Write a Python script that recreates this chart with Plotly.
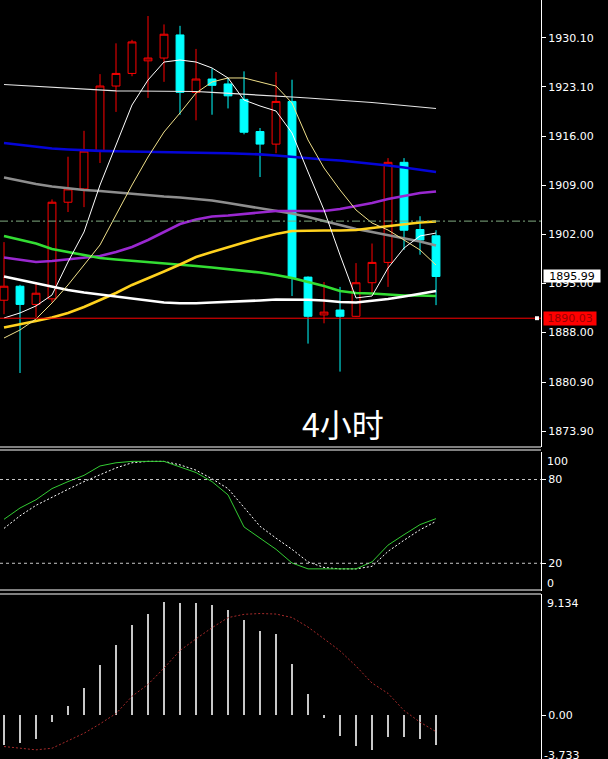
import plotly.graph_objects as go

W, H = 608, 759
PLOT_RIGHT = 541

# ---------------- data ----------------
bars = list(range(28))
open_ = [1892.6, 1894.6, 1892.0, 1892.8, 1906.6, 1908.5, 1913.9, 1923.2, 1925.0, 1926.8,
         1927.2, 1930.5, 1922.3, 1924.2, 1923.5, 1921.3, 1916.7, 1914.9, 1921.0, 1895.9,
         1890.5, 1891.2, 1890.3, 1895.1, 1898.0, 1912.3, 1902.7, 1901.8]
high = [1900.9, 1894.8, 1895.2, 1907.0, 1913.1, 1916.8, 1924.9, 1929.3, 1929.8, 1933.2,
        1932.0, 1931.8, 1928.5, 1925.7, 1924.3, 1925.3, 1917.2, 1925.2, 1924.1, 1896.0,
        1895.2, 1894.5, 1897.9, 1900.7, 1912.9, 1912.9, 1904.6, 1902.6]
low = [1890.6, 1882.2, 1890.2, 1892.3, 1905.2, 1905.9, 1912.2, 1919.5, 1924.6, 1921.5,
       1923.8, 1919.1, 1918.3, 1919.1, 1920.0, 1916.3, 1910.2, 1913.6, 1893.2, 1886.4,
       1889.3, 1882.4, 1890.2, 1893.6, 1894.5, 1899.8, 1899.1, 1891.9]
close = [1894.6, 1892.0, 1893.6, 1906.6, 1908.5, 1913.9, 1923.2, 1925.0, 1929.5, 1927.2,
         1930.6, 1922.3, 1924.2, 1923.3, 1921.8, 1916.6, 1914.9, 1921.0, 1895.8, 1890.3,
         1890.9, 1890.3, 1895.1, 1898.0, 1912.3, 1902.6, 1901.2, 1895.99]

ma_fast = [1890.06, 1890.78, 1891.78, 1893.35, 1898.06, 1902.35, 1909.06, 1914.78, 1920.49, 1924.06,
           1926.63, 1926.92, 1926.63, 1925.78, 1924.35, 1921.20, 1920.35, 1919.63, 1916.49, 1910.92,
           1905.49, 1899.06, 1892.92, 1893.20, 1897.20, 1900.06, 1901.78, 1902.20]
ma_mid = [1887.20, 1888.35, 1889.92, 1892.20, 1894.78, 1897.63, 1900.49, 1904.78, 1909.06, 1913.06,
          1916.63, 1919.35, 1922.20, 1923.78, 1924.35, 1924.35, 1923.78, 1923.20, 1920.78, 1915.49,
          1911.49, 1908.35, 1905.49, 1903.63, 1902.63, 1901.20, 1899.78, 1897.63]
ma_top = [1923.42, 1923.28, 1923.13, 1923.02, 1922.92, 1922.70, 1922.56, 1922.52, 1922.49, 1922.49,
          1922.49, 1922.49, 1922.42, 1922.28, 1922.13, 1921.99, 1921.85, 1921.73, 1921.63, 1921.49,
          1921.35, 1921.20, 1920.99, 1920.85, 1920.63, 1920.42, 1920.20, 1919.99]
ma_blue = [1915.06, 1914.77, 1914.49, 1914.27, 1914.13, 1914.01, 1913.94, 1913.89, 1913.83, 1913.77,
           1913.73, 1913.70, 1913.67, 1913.63, 1913.59, 1913.53, 1913.44, 1913.27, 1913.06, 1912.87,
           1912.70, 1912.56, 1912.34, 1912.13, 1911.84, 1911.56, 1911.20, 1910.91]
ma_gray = [1910.13, 1909.63, 1909.20, 1908.85, 1908.56, 1908.35, 1908.20, 1907.99, 1907.78, 1907.56,
           1907.42, 1907.28, 1907.06, 1906.85, 1906.49, 1906.13, 1905.78, 1905.42, 1904.99, 1904.49,
           1903.92, 1903.35, 1902.78, 1902.35, 1901.92, 1901.49, 1900.99, 1900.42]
ma_purple = [1898.70, 1898.35, 1898.06, 1898.20, 1898.42, 1898.63, 1898.92, 1899.49, 1900.20, 1901.20,
             1902.35, 1903.49, 1904.13, 1904.56, 1904.70, 1904.92, 1905.06, 1905.35, 1905.35, 1905.35,
             1905.35, 1905.63, 1906.06, 1906.49, 1907.06, 1907.49, 1907.92, 1908.13]
ma_green = [1901.78, 1901.28, 1900.70, 1899.92, 1899.49, 1899.06, 1898.63, 1898.42, 1898.25, 1898.06,
            1897.85, 1897.70, 1897.49, 1897.28, 1897.06, 1896.85, 1896.56, 1896.20, 1895.78, 1895.20,
            1894.63, 1893.92, 1893.63, 1893.56, 1893.42, 1893.28, 1893.28, 1893.20]
ma_gold = [1888.70, 1889.13, 1889.63, 1890.13, 1890.78, 1891.63, 1892.63, 1893.63, 1894.78, 1895.70,
           1896.70, 1897.70, 1898.78, 1899.49, 1900.20, 1900.85, 1901.49, 1902.06, 1902.49, 1902.56,
           1902.56, 1902.56, 1902.63, 1902.92, 1903.20, 1903.49, 1903.70, 1903.85]
ma_white = [1895.99, 1895.49, 1894.99, 1894.49, 1894.06, 1893.70, 1893.42, 1893.13, 1892.85, 1892.56,
            1892.28, 1892.16, 1892.16, 1892.28, 1892.35, 1892.42, 1892.56, 1892.70, 1892.73, 1892.66,
            1892.56, 1892.35, 1892.28, 1892.49, 1892.78, 1893.13, 1893.49, 1893.92]

stoch_main = [51.5, 59.6, 65.5, 73.5, 78.5, 83.0, 89.7, 92.0, 93.0, 93.0,
              93.0, 89.0, 85.0, 78.5, 69.0, 46.0, 38.0, 30.0, 20.2, 16.0,
              16.0, 16.0, 16.0, 21.0, 33.0, 40.5, 47.7, 52.0]
stoch_signal = [45.0, 54.0, 61.5, 67.5, 73.0, 78.5, 83.5, 88.3, 92.0, 93.0,
                93.0, 90.5, 86.7, 80.5, 73.5, 60.0, 46.5, 38.0, 30.0, 21.0,
                17.0, 16.0, 16.0, 17.8, 28.5, 36.5, 44.0, 50.0]

macd_hist = [-2.26, -2.08, -1.81, -0.50, 0.68, 2.04, 3.78, 5.28, 6.80, 7.62,
             8.51, 8.43, 8.43, 8.30, 7.93, 7.17, 6.34, 6.12, 3.85, 1.58,
             -0.20, -1.56, -2.31, -2.65, -1.63, -1.63, -1.81, -2.26]
macd_signal = [-2.38, -2.53, -2.63, -2.51, -1.97, -1.38, -0.67, 0.11, 1.41, 2.31,
               3.54, 4.87, 5.75, 6.59, 7.35, 7.60, 7.66, 7.62, 7.36, 6.64,
               5.75, 4.84, 3.69, 2.41, 1.63, 0.34, -0.54, -1.26]

price_ticks = [1930.10, 1923.10, 1916.00, 1909.00, 1902.00, 1895.00, 1888.00, 1880.90, 1873.90]
last_price = 1895.99
level_price = 1890.03
hline_price = 1903.90
stoch_levels = [80, 20]
stoch_max, stoch_min = 100, 0
macd_max, macd_min = 9.134, -3.733
title_text = "4小时"

# ---------------- layout helpers ----------------
def dom(top_px, bot_px):
    return [(H - bot_px) / H, (H - top_px) / H]

def py(px):
    return (H - px) / H

FONT = "DejaVu Sans"
X_RANGE = [-0.25, 33.56]
MACD_TOP_PX, MACD_ZERO_PX = 594, 715
macd_px_per_unit = (MACD_ZERO_PX - MACD_TOP_PX) / macd_max
macd_bottom_val = -(H - MACD_ZERO_PX) / macd_px_per_unit
macd_min_px = MACD_ZERO_PX - macd_min * macd_px_per_unit

fig = go.Figure()

fig.add_trace(go.Candlestick(
    x=bars, open=open_, high=high, low=low, close=close,
    increasing=dict(line=dict(color="#FF0000", width=1), fillcolor="#000000"),
    decreasing=dict(line=dict(color="#00FFFF", width=1), fillcolor="#00FFFF"),
    xaxis="x", yaxis="y", hoverinfo="skip"))

line_specs = [
    (ma_top, "#E6E6E6", 1.2),
    (ma_blue, "#0505D8", 2.6),
    (ma_gray, "#8E8E8E", 2.6),
    (ma_purple, "#9A28D0", 2.6),
    (ma_green, "#33DD33", 2.6),
    (ma_gold, "#FFD21E", 2.6),
    (ma_white, "#FFFFFF", 2.6),
    (ma_mid, "#F0E08A", 1),
    (ma_fast, "#FFFFFF", 1),
]
for vals, col, w in line_specs:
    fig.add_trace(go.Scatter(x=bars, y=vals, mode="lines",
                             line=dict(color=col, width=w),
                             xaxis="x", yaxis="y", hoverinfo="skip"))

fig.add_trace(go.Scatter(x=bars, y=stoch_signal, mode="lines",
                         line=dict(color="#FFFFFF", width=1, dash="2px,2px"),
                         xaxis="x2", yaxis="y2", hoverinfo="skip"))
fig.add_trace(go.Scatter(x=bars, y=stoch_main, mode="lines",
                         line=dict(color="#33CC33", width=1),
                         xaxis="x2", yaxis="y2", hoverinfo="skip"))

fig.add_trace(go.Bar(x=bars, y=macd_hist, width=0.14, marker=dict(color="#C8C8C8", line=dict(width=0)),
                     xaxis="x3", yaxis="y3", hoverinfo="skip"))
fig.add_trace(go.Scatter(x=bars, y=macd_signal, mode="lines",
                         line=dict(color="#A52A2A", width=1, dash="2px,2px"),
                         xaxis="x3", yaxis="y3", hoverinfo="skip"))

shapes = []
shapes.append(dict(type="line", xref="paper", x0=0, x1=1, yref="y", y0=hline_price, y1=hline_price,
                   line=dict(color="#80AA80", width=1, dash="8px,3px,2px,3px")))
shapes.append(dict(type="line", xref="paper", x0=0, x1=1, yref="y", y0=level_price, y1=level_price,
                   line=dict(color="#FF0000", width=1)))
shapes.append(dict(type="rect", xref="paper", x0=535 / PLOT_RIGHT, x1=539 / PLOT_RIGHT, yref="y",
                   y0=level_price - 0.28, y1=level_price + 0.28,
                   fillcolor="#FFFFFF", line=dict(width=0)))
for lv in stoch_levels:
    shapes.append(dict(type="line", xref="paper", x0=0, x1=1, yref="y2", y0=lv, y1=lv,
                       line=dict(color="#C8C8C8", width=1, dash="3px,3px")))
for ypx in (447, 450, 590, 594):
    shapes.append(dict(type="line", xref="paper", x0=0, x1=1, yref="paper", y0=py(ypx), y1=py(ypx),
                       line=dict(color="#FFFFFF", width=1)))

annotations = [
    dict(text=title_text, xref="paper", yref="paper", x=343 / PLOT_RIGHT, y=py(423),
         xanchor="center", yanchor="middle", showarrow=False,
         font=dict(family="Noto Sans CJK SC", size=32, color="#FFFFFF")),
    dict(text=f"{last_price:.2f}", xref="paper", yref="y", x=1, y=last_price, xanchor="left",
         yanchor="middle", xshift=2, showarrow=False, bgcolor="#FFFFFF", borderpad=0,
         width=56, height=12, font=dict(family=FONT, size=11, color="#000000")),
    dict(text=f"{level_price:.2f}", xref="paper", yref="y", x=1, y=level_price, xanchor="left",
         yanchor="middle", xshift=2, showarrow=False, bgcolor="#FF0000", borderpad=0,
         width=52, height=13, font=dict(family=FONT, size=11, color="#990000")),
    dict(text=str(stoch_max), xref="paper", yref="y2", x=1, y=stoch_max, xanchor="left",
         yanchor="top", xshift=4, yshift=-1, showarrow=False, font=dict(family=FONT, size=11, color="#FFFFFF")),
    dict(text=str(stoch_min), xref="paper", yref="y2", x=1, y=stoch_min, xanchor="left",
         yanchor="bottom", xshift=4, yshift=-1, showarrow=False, font=dict(family=FONT, size=11, color="#FFFFFF")),
    dict(text=f"{macd_max:.3f}", xref="paper", yref="y3", x=1, y=macd_max, xanchor="left",
         yanchor="top", xshift=4, yshift=-1, showarrow=False, font=dict(family=FONT, size=11, color="#FFFFFF")),
    dict(text=f"{macd_min:.3f}", xref="paper", yref="paper", x=1, y=py(macd_min_px), xanchor="left",
         yanchor="bottom", xshift=1, showarrow=False, font=dict(family=FONT, size=11, color="#FFFFFF")),
]

xcommon = dict(range=X_RANGE, showgrid=False, zeroline=False, showticklabels=False,
               ticks="", showline=False, fixedrange=True)
ycommon = dict(side="right", showgrid=False, zeroline=False, showline=True, linecolor="#FFFFFF",
               linewidth=1, ticks="outside", ticklen=4, tickcolor="#FFFFFF",
               tickfont=dict(family=FONT, size=11, color="#FFFFFF"), fixedrange=True)

fig.update_layout(
    width=W, height=H, autosize=False,
    margin=dict(l=0, r=W - PLOT_RIGHT, t=0, b=0, pad=0),
    paper_bgcolor="#000000", plot_bgcolor="#000000",
    showlegend=False, bargap=0,
    xaxis=dict(domain=[0, 1], anchor="y", rangeslider=dict(visible=False), **xcommon),
    xaxis2=dict(domain=[0, 1], anchor="y2", **xcommon),
    xaxis3=dict(domain=[0, 1], anchor="y3", **xcommon),
    yaxis=dict(domain=dom(0, 447), anchor="x", range=[1871.63, 1935.49],
               tickvals=price_ticks, ticktext=[f"{v:.2f}" for v in price_ticks], **ycommon),
    yaxis2=dict(domain=dom(451.6, 591.2), anchor="x2", range=[0, 100],
                tickvals=stoch_levels, ticktext=[str(v) for v in stoch_levels], **ycommon),
    yaxis3=dict(domain=dom(MACD_TOP_PX, H), anchor="x3", range=[macd_bottom_val, macd_max],
                tickvals=[0], ticktext=["0.00"], **ycommon),
    shapes=shapes, annotations=annotations,
)

fig.write_html(
    "out.html",
    config={"displayModeBar": False},
    post_script="document.body.style.margin='0';document.body.style.background='#000';"
                "document.documentElement.style.overflow='hidden';",
)
